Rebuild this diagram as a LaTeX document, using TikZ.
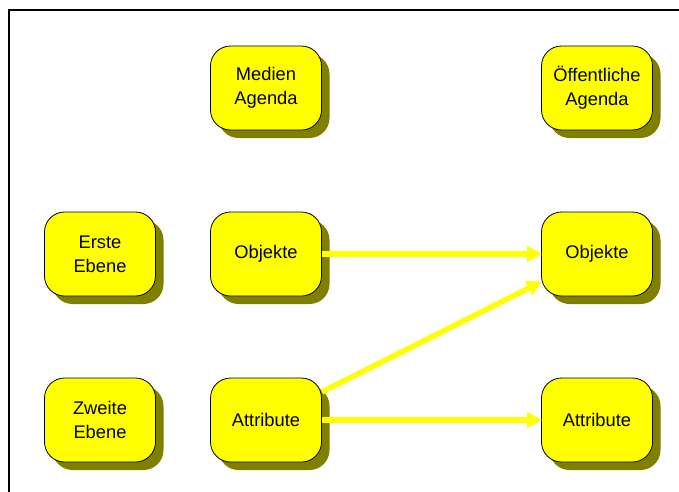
\documentclass[tikz,border=0pt]{standalone}
\usepackage{fontspec}
\setmainfont{Liberation Sans}
\usetikzlibrary{arrows.meta,shadows}
\definecolor{boxfill}{RGB}{255,255,0}
\definecolor{boxshade}{RGB}{128,128,0}
\definecolor{arrowyellow}{RGB}{255,255,0}
\begin{document}
\begin{tikzpicture}[x=1pt,y=-1pt,
  agenda/.style={draw=black, line width=0.8pt, fill=boxfill,
    rounded corners=20pt, minimum width=111pt, minimum height=84pt,
    inner sep=0pt, align=center,
    font=\fontsize{18.3pt}{24pt}\selectfont,
    drop shadow={shadow xshift=8pt, shadow yshift=-8pt, fill=boxshade, opacity=1}},
  flow/.style={draw=arrowyellow, line width=5.5pt,
    -{Triangle[length=15pt,width=15pt]}, shorten >=-1pt}]
  \useasboundingbox (0,0) rectangle (679,491);
  % outer frame (left and top edges)
  \draw[line width=2pt, line cap=rect] (9,491) -- (9,10) -- (679,10);

  % column heads
  \node[agenda] (medien)  at (266,88)  {Medien\\Agenda};
  \node[agenda] (oeff)    at (597,88)  {Öffentliche\\Agenda};
  % rows
  \node[agenda] (erste)   at (100,254) {Erste\\Ebene};
  \node[agenda] (mobj)    at (266,254) {Objekte};
  \node[agenda] (oobj)    at (597,254) {Objekte};
  \node[agenda] (zweite)  at (100,420) {Zweite\\Ebene};
  \node[agenda] (mattr)   at (266,420) {Attribute};
  \node[agenda] (oattr)   at (597,420) {Attribute};

  % transfer arrows
  \draw[flow] (mobj) -- (oobj);
  \draw[flow] (mattr) -- (oobj);
  \draw[flow] (mattr) -- (oattr);
\end{tikzpicture}
\end{document}
